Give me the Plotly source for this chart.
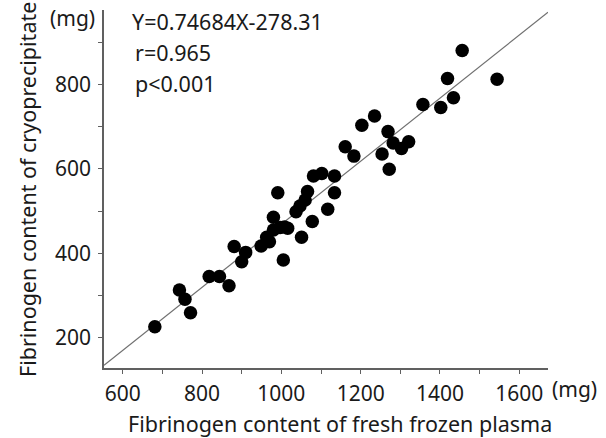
import plotly.graph_objects as go

# Fibrinogen content (mg)
ffp_mg = [681, 743, 757, 771, 818, 844, 868, 881, 900, 910,
          949, 963, 970, 980, 980, 991, 1005, 997, 1016, 1008,
          1037, 1047, 1051, 1060, 1066, 1078, 1081, 1102, 1117, 1134,
          1134, 1161, 1183, 1203, 1235, 1254, 1269, 1272, 1282, 1303,
          1321, 1357, 1402, 1419, 1434, 1456, 1544]
cryo_mg = [226, 313, 291, 259, 345, 345, 323, 416, 380, 402,
           417, 438, 427, 455, 485, 543, 384, 461, 459, 462,
           498, 512, 438, 526, 546, 475, 583, 589, 504, 543,
           583, 652, 630, 703, 725, 635, 688, 599, 661, 648,
           664, 752, 745, 814, 768, 880, 812]

slope = 0.74684
intercept = -278.31
x_range = [552.8, 1672.4]
y_range = [128.2, 976.0]

x_tickvals = [600, 700, 800, 900, 1000, 1100, 1200, 1300, 1400, 1500, 1600]
x_ticktext = ["600", "", "800", "", "1000", "", "1200", "", "1400", "", "1600"]
y_tickvals = [200, 300, 400, 500, 600, 700, 800, 900]
y_ticktext = ["200", "", "400", "", "600", "", "800", ""]

equation_lines = ["Y=0.74684X-278.31", "r=0.965", "p<0.001"]
x_title = "Fibrinogen content of fresh frozen plasma"
y_title = "Fibrinogen content of cryoprecipitate"
unit = "(mg)"

FONT = "Noto Sans"
TXT = "#1a1a1a"
AX = "#606060"

fig = go.Figure()
fig.add_trace(go.Scatter(
    x=x_range, y=[slope * v + intercept for v in x_range],
    mode="lines", line=dict(color="#707070", width=1.2),
    hoverinfo="skip", showlegend=False, cliponaxis=True))
fig.add_trace(go.Scatter(
    x=ffp_mg, y=cryo_mg, mode="markers",
    marker=dict(color="black", size=13.5, line=dict(width=0)),
    showlegend=False))

axis_common = dict(
    showgrid=False, zeroline=False, showline=True, linecolor=AX, linewidth=1.5,
    ticks="outside", ticklen=4, tickwidth=1, tickcolor=AX,
    tickfont=dict(family=FONT, size=21, color=TXT), mirror=False)

fig.update_xaxes(range=x_range, tickvals=x_tickvals, ticktext=x_ticktext,
                 ticklabelstandoff=2, **axis_common)
fig.update_yaxes(range=y_range, tickvals=y_tickvals, ticktext=y_ticktext,
                 ticklabelstandoff=3, **axis_common)

ann = []
eq_y = [21, 53, 84]
eq_x = [130, 133, 133]
for t, yy, xx in zip(equation_lines, eq_y, eq_x):
    ann.append(dict(text=t, xref="paper", yref="paper",
                    x=(xx - 104) / 444, y=(368 - yy) / 358,
                    xanchor="left", yanchor="middle", showarrow=False,
                    font=dict(family=FONT, size=21.5, color=TXT)))
ann.append(dict(text=unit, xref="paper", yref="paper",
                x=(72 - 104) / 444, y=(368 - 18) / 358,
                xanchor="center", yanchor="middle", showarrow=False,
                font=dict(family=FONT, size=21, color=TXT)))
ann.append(dict(text=unit, xref="paper", yref="paper",
                x=(574 - 104) / 444, y=(368 - 389) / 358,
                xanchor="center", yanchor="middle", showarrow=False,
                font=dict(family=FONT, size=21, color=TXT)))
ann.append(dict(text=x_title, xref="paper", yref="paper",
                x=(340 - 104) / 444, y=(368 - 423) / 358,
                xanchor="center", yanchor="middle", showarrow=False,
                font=dict(family=FONT, size=21.5, color=TXT)))
ann.append(dict(text=y_title, xref="paper", yref="paper",
                x=(27 - 104) / 444, y=(368 - 190) / 358, textangle=-90,
                xanchor="center", yanchor="middle", showarrow=False,
                font=dict(family=FONT, size=21.5, color=TXT)))

fig.update_layout(
    width=606, height=438,
    margin=dict(l=104, r=58, t=10, b=70),
    plot_bgcolor="white", paper_bgcolor="white",
    annotations=ann, showlegend=False)

fig.write_html("out.html",
               config={"displayModeBar": False},
               post_script="document.body.style.margin='0';"
                           "document.body.style.overflow='hidden';")
